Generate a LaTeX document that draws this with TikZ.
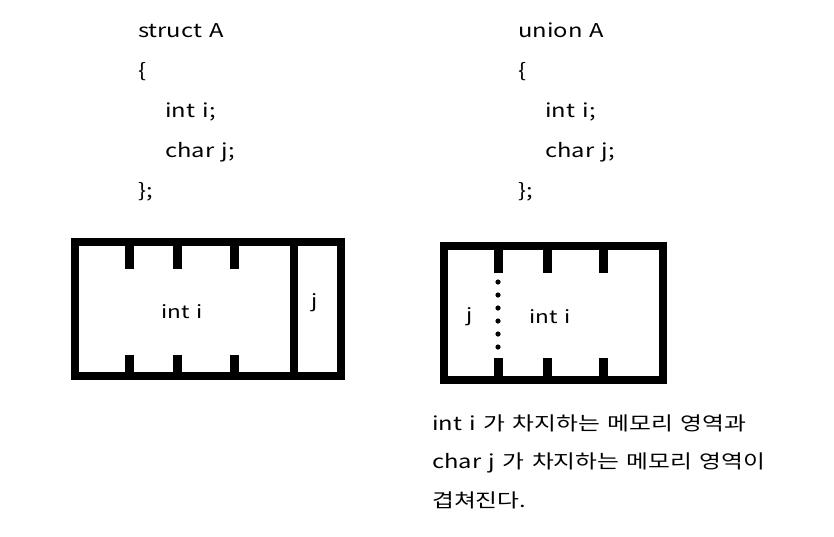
\documentclass[tikz,border=0pt]{standalone}
\usepackage{fontspec}
\setmainfont[FakeStretch=1.25, WordSpace=1.4]{Noto Sans CJK KR}
\begin{document}
\begin{tikzpicture}[
    x=1pt, y=-1pt,
    mywall/.style={line width=8.5pt},
    mytick/.style={line width=9pt},
    mycode/.style={anchor=base west, inner sep=0pt, font=\fontsize{19}{20}\selectfont},
    mylabel/.style={inner sep=0pt, font=\fontsize{18}{20}\selectfont}
]
    \useasboundingbox (0, 0) rectangle (834, 536);

    % struct code
    \node[mycode] (s1) at (138, 37) {struct A};
    \node[mycode] (s2) at (138, 77) {\{};
    \node[mycode] (s3) at (165, 117) {int i;};
    \node[mycode] (s4) at (165, 157) {char j;};
    \node[mycode] (s5) at (138, 197) {\};};

    % union code
    \node[mycode] (u1) at (518, 37) {union A};
    \node[mycode] (u2) at (518, 77) {\{};
    \node[mycode] (u3) at (545, 117) {int i;};
    \node[mycode] (u4) at (545, 157) {char j;};
    \node[mycode] (u5) at (518, 197) {\};};

    % struct memory
    \draw[mywall] (75, 242) rectangle (341, 376);
    \draw[mywall] (294, 242) -- (294, 376);
    \foreach \x in {129.5, 177.5, 234} {
        \draw[mytick] (\x, 242) -- (\x, 269);
        \draw[mytick] (\x, 376) -- (\x, 355);
    }
    \node[mylabel] (si) at (182, 312) {int i};
    \node[mylabel] (sj) at (315, 303) {j};

    % union memory
    \draw[mywall] (444, 246) rectangle (663, 380);
    \foreach \x in {498.5, 547.5, 603.5} {
        \draw[mytick] (\x, 246) -- (\x, 273);
        \draw[mytick] (\x, 380) -- (\x, 358);
    }
    \foreach \y in {0, ..., 5}
        \fill (498, 282 + 13*\y) circle (2.6);
    \node[mylabel] (uj) at (470, 317) {j};
    \node[mylabel] (ui) at (550, 317) {int i};

    % note
    \node[mycode] (n1) at (432, 430) {int i 가 차지하는 메모리 영역과};
    \node[mycode] (n2) at (432, 468) {char j 가 차지하는 메모리 영역이};
    \node[mycode] (n3) at (432, 507) {겹쳐진다.};
\end{tikzpicture}
\end{document}
